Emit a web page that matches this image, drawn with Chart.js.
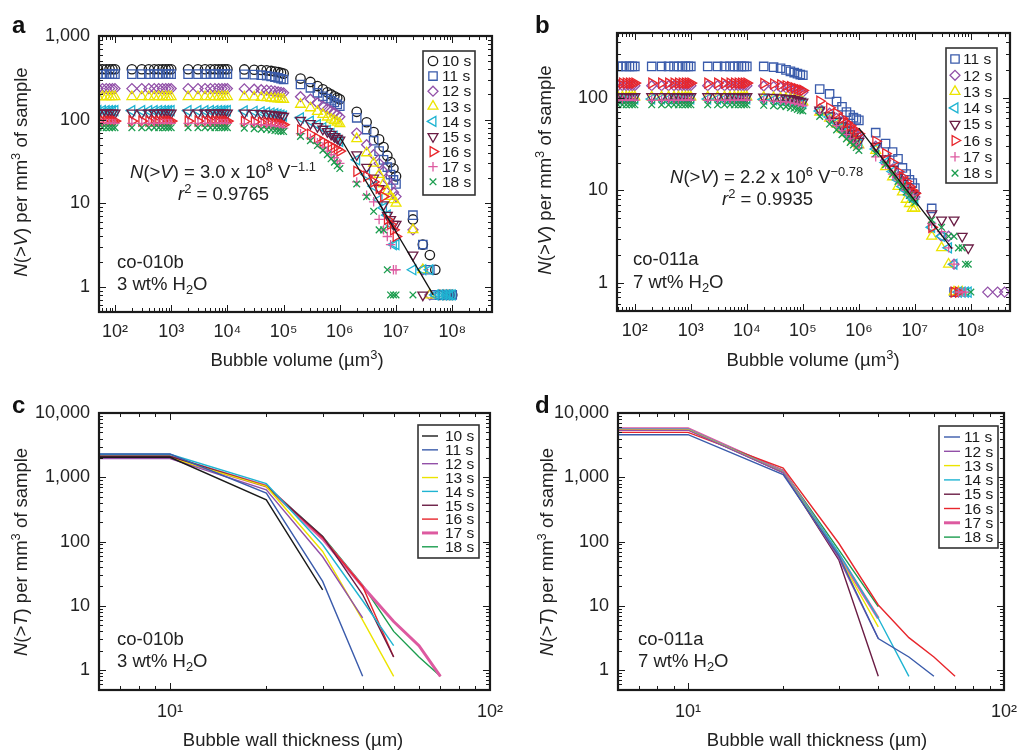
<!DOCTYPE html>
<html>
<head>
<meta charset="utf-8">
<script src="https://cdn.jsdelivr.net/npm/chart.js@4.4.1/dist/chart.umd.min.js"></script>
<style>
  body { margin: 0; background: #fff; }
  #fig { position: relative; width: 1028px; height: 750px; overflow: hidden;
         font-family: "Liberation Sans", Arial, Helvetica, sans-serif; color: #222; }
  #fig canvas { position: absolute; }
  .t { position: absolute; white-space: nowrap; font-size: 18.5px; line-height: 21px; }
  .lab { position: absolute; font-weight: bold; font-size: 24px; line-height: 27px; color: #111; }
  .yt { position: absolute; white-space: nowrap; font-size: 18.5px; transform: translate(-50%, -50%) rotate(-90deg); }
  .xt { position: absolute; white-space: nowrap; font-size: 18.5px; transform: translate(-50%, -50%); }
  sup { font-size: 0.7em; vertical-align: baseline; position: relative; top: -0.55em; }
  sub { font-size: 0.7em; vertical-align: baseline; position: relative; top: 0.3em; }
</style>
</head>
<body>
<div id="fig">
  <canvas id="ca" width="514" height="375" style="left:0;top:0"></canvas>
  <canvas id="cb" width="514" height="375" style="left:514px;top:0"></canvas>
  <canvas id="cc" width="514" height="375" style="left:0;top:375px"></canvas>
  <canvas id="cd" width="514" height="375" style="left:514px;top:375px"></canvas>

  <div class="lab" style="left:12px;top:11px">a</div>
  <div class="lab" style="left:535px;top:11px">b</div>
  <div class="lab" style="left:12px;top:391px">c</div>
  <div class="lab" style="left:535px;top:391px">d</div>

  <div class="yt" style="left:21px;top:172px"><i>N</i>(&gt;<i>V</i>) per mm<sup>3</sup> of sample</div>
  <div class="yt" style="left:545px;top:170px"><i>N</i>(&gt;<i>V</i>) per mm<sup>3</sup> of sample</div>
  <div class="yt" style="left:21px;top:552px"><i>N</i>(&gt;<i>T</i>) per mm<sup>3</sup> of sample</div>
  <div class="yt" style="left:547px;top:552px"><i>N</i>(&gt;<i>T</i>) per mm<sup>3</sup> of sample</div>

  <div class="xt" style="left:297px;top:360px">Bubble volume (µm<sup>3</sup>)</div>
  <div class="xt" style="left:813px;top:360px">Bubble volume (µm<sup>3</sup>)</div>
  <div class="xt" style="left:293px;top:740px">Bubble wall thickness (µm)</div>
  <div class="xt" style="left:817px;top:740px">Bubble wall thickness (µm)</div>

  <div class="t" style="left:130px;top:161px"><i>N</i>(&gt;<i>V</i>) = 3.0 x 10<sup>8</sup> V<sup>−1.1</sup></div>
  <div class="t" style="left:178px;top:183px"><i>r</i><sup>2</sup> = 0.9765</div>
  <div class="t" style="left:117px;top:251px">co-010b</div>
  <div class="t" style="left:117px;top:273px">3 wt% H<sub>2</sub>O</div>

  <div class="t" style="left:670px;top:166px"><i>N</i>(&gt;<i>V</i>) = 2.2 x 10<sup>6</sup> V<sup>−0.78</sup></div>
  <div class="t" style="left:722px;top:188px"><i>r</i><sup>2</sup> = 0.9935</div>
  <div class="t" style="left:633px;top:248px">co-011a</div>
  <div class="t" style="left:633px;top:271px">7 wt% H<sub>2</sub>O</div>

  <div class="t" style="left:117px;top:628px">co-010b</div>
  <div class="t" style="left:117px;top:650px">3 wt% H<sub>2</sub>O</div>
  <div class="t" style="left:638px;top:628px">co-011a</div>
  <div class="t" style="left:638px;top:650px">7 wt% H<sub>2</sub>O</div>
</div>

<script>
// bubble volume bins (um^3)
const volA = [50,60,70,80,90,1e2, 2e2,3e2,4e2,5e2,6e2,7e2,8e2,9e2,1e3, 2e3,3e3,4e3,5e3,6e3,7e3,8e3,9e3,1e4,
  2e4,3e4,4e4,5e4,6e4,7e4,8e4,9e4,1e5, 2e5,3e5,4e5,5e5,6e5,7e5,8e5,9e5,1e6, 2e6,3e6,4e6,5e6,6e6,7e6,8e6,9e6,1e7,
  2e7,3e7,4e7,5e7,6e7,7e7,8e7,9e7,1e8];
const volB = [50,60,70,80,90,1e2, 2e2,3e2,4e2,5e2,6e2,7e2,8e2,9e2,1e3, 2e3,3e3,4e3,5e3,6e3,7e3,8e3,9e3,1e4,
  2e4,3e4,4e4,5e4,6e4,7e4,8e4,9e4,1e5, 2e5,3e5,4e5,5e5,6e5,7e5,8e5,9e5,1e6, 2e6,3e6,4e6,5e6,6e6,7e6,8e6,9e6,1e7,
  2e7,3e7,4e7,5e7,6e7,7e7,8e7,9e7,1e8, 2e8,3e8,4e8];

// panel a, co-010b: N(>V) per mm3
const a10 = [400,400,400,400,400,400, 400,400,400,400,400,400,400,400,400, 400,400,400,400,400,400,400,400,400,
  398,395,392,388,382,376,370,362,355, 310,282,252,230,212,200,190,182,175,
  124,93,71,58,47,37,31,26,21, 6.4,3.2,2.4,1.6,0.8,0.8,0.8,0.8,0.8];
const a11 = [350,350,350,350,350,350, 350,350,350,350,350,350,350,350,350, 350,350,350,350,350,350,350,350,350,
  348,345,340,335,328,322,316,308,302, 263,240,209,190,178,168,160,152,145,
  105,76,56,42,33,27,22,19,17, 7.2,3.2,1.6,0.8,0.8,0.8,0.8,0.8,0.8];
const a12 = [235,235,235,235,235,235, 235,235,235,235,235,235,235,235,235, 235,235,235,235,235,235,235,235,235,
  233,231,228,225,222,219,215,212,209, 188,175,158,145,135,127,120,114,108,
  69,50,38,30,24,19,16,13.5,12, 4.8,1.6,0.8,null,null,null,null,null,null];
const a13 = [188,188,188,188,188,188, 188,188,188,188,188,188,188,188,188, 188,188,188,188,188,188,188,188,188,
  187,186,184,182,180,178,177,175,174, 152,138,125,115,107,101,97,93,89,
  59,40,30,22,17,14,12,11,10, 4.8,1.6,0.8,null,null,null,null,null,null];
const a14 = [128,128,128,128,128,128, 128,128,128,128,128,128,128,128,128, 128,128,128,128,128,128,128,128,128,
  127,126,124,122,120,118,116,113,110, 105,96,87,80,74,68,63,59,55,
  33,22,16,11,8.8,7.2,5.6,3.2,3.2, 1.6,1.6,1.6,0.8,0.8,0.8,0.8,0.8,0.8];
const a15 = [120,120,120,120,120,120, 120,120,120,120,120,120,120,120,120, 120,120,120,120,120,120,120,120,120,
  120,119,118,117,116,114,113,112,110, 98,90,83,77,72,67,63,60,57,
  38,27,20,15,9.6,7.2,6.4,5.6,5.6, 2.4,0.8,null,null,null,null,null,null,null];
const a16 = [96,96,96,96,96,96, 96,96,96,96,96,96,96,96,96, 96,96,96,96,96,96,96,96,96,
  95,94,93,92,91,90,89,88,87, 75,67,60,55,51,48,46,44,42,
  24,21,18,15,12,6.4,5.6,4.8,4.0, null,null,null,null,null,null,null,null,null];
const a17 = [90,90,90,90,90,90, 90,90,90,90,90,90,90,90,90, 90,90,90,90,90,90,90,90,90,
  89,88,87,86,85,83,82,80,79, 68,60,53,47,42,38,35,32,30,
  18,12.5,10.4,6.4,4.8,4.0,3.2,1.6,1.6, null,null,null,null,null,null,null,null,null];
const a18 = [80,80,80,80,80,80, 80,80,80,80,80,80,80,80,80, 80,80,80,80,80,80,80,80,80,
  79,78,77,76,75,74,73,72,72, 63,56,49,43,38,34,31,28,26,
  17,12,8,4.8,4.8,1.6,0.8,0.8,0.8, 0.8,null,null,null,null,null,null,null,null];
const fitAX = [1e6, 4.6e7];
const fitAY = [62, 0.8];

// panel b, co-011a
const b11 = [218,218,218,218,218,218, 218,218,218,218,218,218,218,218,218, 218,218,218,218,218,218,218,218,218,
  218,214,208,200,193,187,182,178,175, 124,110,91,80,70,65,61,59,57,
  42,32,26,22,17.5,15,13,12,10.6, 6.4,null,null,0.8,null,null,null,null,null, null,null,null];
const b12 = [135,135,135,135,135,135, 135,135,135,135,135,135,135,135,135, 135,135,135,135,135,135,135,135,135,
  134,132,130,128,125,122,119,117,115, 76,68,60,54,49,45,42,40,38,
  30,21,17,14,12,10.5,9.5,9,8.5, 4.0,3.2,3.2,1.6,0.8,null,null,null,null, 0.8,0.8,0.8];
const b13 = [102,102,102,102,102,102, 102,102,102,102,102,102,102,102,102, 102,102,102,102,102,102,102,102,102,
  101,100,99,98,97,96,94,92,90, 70,60,52,46,42,38,35,33,31,
  27,18,14,11,9.6,8,7.2,6.4,6.4, 3.2,2.4,1.6,0.8,0.8,0.8,null,null,null, null,null,null];
const b14 = [97,97,97,97,97,97, 97,97,97,97,97,97,97,97,97, 97,97,97,97,97,97,97,97,97,
  96,95,94,93,92,91,90,88,87, 72,62,54,48,43,39,36,34,32,
  28,20,16,13,11,10,9,8.3,7.8, 4.0,3.2,2.4,1.6,0.8,0.8,0.8,0.8,null, null,null,null];
const b15 = [103,103,103,103,103,103, 103,103,103,103,103,103,103,103,103, 103,103,103,103,103,103,103,103,103,
  102,101,100,99,98,96,94,92,90, 74,64,56,50,45,41,38,36,34,
  30,22,17,14,12,11,10,9.3,8.8, 5.6,4.8,null,4.8,null,3.2,null,2.4,null, null,null,null];
const b16 = [144,144,144,144,144,144, 144,144,144,144,144,144,144,144,144, 144,144,144,144,144,144,144,144,144,
  143,141,138,135,132,128,125,122,120, 92,78,68,60,54,50,46,43,41,
  34,25,20,16,14,12.5,11,10,9.3, 4.0,null,null,0.8,0.8,null,null,null,null, null,null,null];
const b17 = [94,94,94,94,94,94, 94,94,94,94,94,94,94,94,94, 94,94,94,94,94,94,94,94,94,
  93,92,91,90,88,87,85,83,82, 68,58,50,44,40,36,33,31,29,
  23,19,15,13,11.5,10,9.3,8.6,8, 4.4,3.6,2.4,1.6,0.8,0.8,0.8,null,null, null,null,null];
const b18 = [84,84,84,84,84,84, 84,84,84,84,84,84,84,84,84, 84,84,84,84,84,84,84,84,84,
  83,82,81,80,78,77,75,73,72, 63,52,45,40,36,33,31,29,27,
  25,19,15,12.5,11,9.6,8.8,8,7.4, 4.8,4.0,3.2,3.2,2.4,2.4,1.6,1.6,0.8, null,null,null];
const fitBX = [1e6, 4.6e7];
const fitBY = [47, 2.35];

// panels c and d: bubble wall thickness (um), N(>T) per mm3
const thick = [5, 10, 20, 30, 40, 50, 60, 70];
const c10 = [2050, 2050, 445, 17.7, null, null, null, null];
const c11 = [2300, 2300, 566, 24, 0.8, null, null, null];
const c12 = [1950, 1950, 638, 58, 6.5, null, null, null];
const c13 = [2000, 2000, 720, 70, 6, 0.8, null, null];
const c14 = [2280, 2280, 795, 89, 12, 2.4, null, null];
const c15 = [2100, 2100, 720, 120, 15, 1.6, null, null];
const c16 = [2100, 2100, 730, 115, 20, 1.6, null, null];
const c17 = [2050, 2050, 730, 110, 20, 5.7, 2.4, 0.8];
const c18 = [2150, 2150, 740, 120, 21, 4.0, 1.6, 0.8];

const d11 = [4600, 4600, 1100, 60, 3.1, 1.6, 0.8, null];
const d12 = [5400, 5400, 1180, 55, 3.1, null, null, null];
const d13 = [5500, 5500, 1200, 58, 4.7, null, null, null];
const d14 = [5600, 5600, 1220, 66, 6.4, 0.8, null, null];
const d15 = [5500, 5500, 1180, 52, 0.8, null, null, null];
const d16 = [5000, 5000, 1390, 94, 10.3, 3.2, 1.6, 0.8];
const d17 = [5700, 5700, 1230, 62, 6.4, null, null, null];
const d18 = [5600, 5600, 1280, 74, 9.7, null, null, null];

const STYLE = {
  '10 s': { color: '#1a1a1a', shape: 'circle',   rot: 0,   r: 4.7 },
  '11 s': { color: '#3a5bab', shape: 'rect',     rot: 0,   r: 5.9 },
  '12 s': { color: '#9250a8', shape: 'rectRot',  rot: 0,   r: 5.0 },
  '13 s': { color: '#ece400', shape: 'triangle', rot: 0,   r: 5.7 },
  '14 s': { color: '#1fb4d2', shape: 'triangle', rot: -90, r: 5.7 },
  '15 s': { color: '#6a1c44', shape: 'triangle', rot: 180, r: 5.7 },
  '16 s': { color: '#e8262c', shape: 'triangle', rot: 90,  r: 5.7 },
  '17 s': { color: '#dd5aa0', shape: 'cross',    rot: 0,   r: 4.7 },
  '18 s': { color: '#1b9d4e', shape: 'crossRot', rot: 0,   r: 4.7 }
};

Chart.defaults.font.family = '"Liberation Sans", Arial, Helvetica, sans-serif';
Chart.defaults.color = '#222';

const SUP = { '0': '⁰', '1': '¹', '2': '²', '3': '³', '4': '⁴', '5': '⁵', '6': '⁶', '7': '⁷', '8': '⁸', '9': '⁹' };
function isDecade(v) {
  const l = Math.log10(v);
  return Math.abs(l - Math.round(l)) < 1e-6;
}
function logTicks(min, max) {
  const out = [];
  for (let k = Math.floor(Math.log10(min)); k <= Math.ceil(Math.log10(max)); k++) {
    for (let m = 1; m <= 9; m++) {
      const v = +(m * Math.pow(10, k)).toPrecision(6);
      if (v >= min * 0.9999 && v <= max * 1.0001) out.push({ value: v });
    }
  }
  return out;
}
const powLabel = v => isDecade(v) ? '10' + String(Math.round(Math.log10(v))).split('').map(c => SUP[c]).join('') : '';
const numLabel = v => isDecade(v) ? Math.round(v).toLocaleString('en-US') : '';

function pts(xs, ys) {
  return xs.map((x, i) => ({ x: x, y: ys[i] })).filter(p => p.y !== null);
}

function markerSet(label, xs, ys, k) {
  const st = STYLE[label];
  return {
    label: label, data: pts(xs, ys), showLine: false,
    pointStyle: st.shape, pointRotation: st.rot, pointRadius: st.r,
    pointBorderWidth: 1.3, pointBorderColor: st.color, borderColor: st.color,
    pointBackgroundColor: 'rgba(0,0,0,0)', backgroundColor: 'rgba(0,0,0,0)',
    order: 20 - k
  };
}
function lineSet(label, xs, ys) {
  const st = STYLE[label];
  return {
    label: label, data: pts(xs, ys), showLine: true, tension: 0, fill: false,
    borderColor: st.color, borderWidth: label === '17 s' ? 3 : 1.4,
    pointRadius: 0, pointHoverRadius: 0
  };
}
function fitSet(xs, ys) {
  return {
    label: 'fit', data: pts(xs, ys), showLine: true, tension: 0, fill: false,
    borderColor: '#111', borderWidth: 1.3, pointRadius: 0, order: -1
  };
}

function drawMark(ctx, st, x, y) {
  ctx.save();
  ctx.strokeStyle = st.color;
  ctx.fillStyle = 'rgba(0,0,0,0)';
  ctx.lineWidth = 1.3;
  if (Chart.helpers && Chart.helpers.drawPoint) {
    Chart.helpers.drawPoint(ctx, { pointStyle: st.shape, rotation: st.rot, radius: st.r, borderWidth: 1.3 }, x, y);
  } else {
    ctx.beginPath(); ctx.arc(x, y, st.r, 0, Math.PI * 2); ctx.stroke();
  }
  ctx.restore();
}

function makeDecor(leg) {
  return {
    id: 'decor',
    afterDatasetsDraw(chart) {
      const ctx = chart.ctx, a = chart.chartArea, sx = chart.scales.x, sy = chart.scales.y;
      ctx.save();
      ctx.strokeStyle = '#1a1a1a';
      ctx.lineWidth = 1;
      ctx.beginPath();
      sx.ticks.forEach(t => {
        const p = Math.round(sx.getPixelForValue(t.value)) + 0.5;
        if (p <= a.left + 1 || p >= a.right - 1) return;
        const len = isDecade(t.value) ? 7 : 4;
        ctx.moveTo(p, a.bottom); ctx.lineTo(p, a.bottom - len);
        ctx.moveTo(p, a.top); ctx.lineTo(p, a.top + len);
      });
      sy.ticks.forEach(t => {
        const p = Math.round(sy.getPixelForValue(t.value)) + 0.5;
        if (p <= a.top + 1 || p >= a.bottom - 1) return;
        const len = isDecade(t.value) ? 7 : 4;
        ctx.moveTo(a.left, p); ctx.lineTo(a.left + len, p);
        ctx.moveTo(a.right, p); ctx.lineTo(a.right - len, p);
      });
      ctx.stroke();
      ctx.lineWidth = 2.2;
      ctx.strokeRect(a.left, a.top, a.right - a.left, a.bottom - a.top);

      // legend box
      ctx.fillStyle = '#fff';
      ctx.fillRect(leg.x, leg.y, leg.w, leg.h);
      ctx.lineWidth = 1.6;
      ctx.strokeStyle = '#333';
      ctx.strokeRect(leg.x, leg.y, leg.w, leg.h);
      ctx.font = '15.5px "Liberation Sans", Arial, sans-serif';
      ctx.textBaseline = 'middle';
      ctx.textAlign = 'left';
      leg.labels.forEach((lab, i) => {
        const y = leg.row0 + i * leg.dy;
        const st = STYLE[lab];
        if (leg.lines) {
          ctx.strokeStyle = st.color;
          ctx.lineWidth = lab === '17 s' ? 3 : 1.4;
          ctx.beginPath(); ctx.moveTo(leg.mx - 8, y); ctx.lineTo(leg.mx + 8, y); ctx.stroke();
        } else {
          drawMark(ctx, st, leg.mx, y);
        }
        ctx.fillStyle = '#1a1a1a';
        ctx.fillText(lab, leg.tx, y + 1);
      });
      ctx.restore();
    }
  };
}

function panel(id, p) {
  return new Chart(document.getElementById(id), {
    type: 'scatter',
    data: { datasets: p.datasets },
    options: {
      responsive: false,
      animation: false,
      layout: { padding: { top: p.top, right: p.right, left: 0, bottom: 0 } },
      plugins: { legend: { display: false }, tooltip: { enabled: false } },
      scales: {
        x: {
          type: 'logarithmic', min: p.xmin, max: p.xmax,
          grid: { display: false, drawTicks: false }, border: { display: false },
          afterBuildTicks: s => { s.ticks = logTicks(p.xmin, p.xmax); },
          afterFit: s => { s.height = p.xh; },
          ticks: { autoSkip: false, maxRotation: 0, minRotation: 0, padding: p.xpad,
                   font: { size: 18 }, color: '#222', callback: powLabel }
        },
        y: {
          type: 'logarithmic', min: p.ymin, max: p.ymax,
          grid: { display: false, drawTicks: false }, border: { display: false },
          afterBuildTicks: s => { s.ticks = logTicks(p.ymin, p.ymax); },
          afterFit: s => { s.width = p.yw; },
          ticks: { autoSkip: false, padding: 9, font: { size: 18 }, color: '#222', callback: numLabel }
        }
      }
    },
    plugins: [makeDecor(p.legend)]
  });
}

const labelsA = ['10 s', '11 s', '12 s', '13 s', '14 s', '15 s', '16 s', '17 s', '18 s'];
const labelsB = ['11 s', '12 s', '13 s', '14 s', '15 s', '16 s', '17 s', '18 s'];
const seriesA = [a10, a11, a12, a13, a14, a15, a16, a17, a18];
const seriesB = [b11, b12, b13, b14, b15, b16, b17, b18];
const seriesC = [c10, c11, c12, c13, c14, c15, c16, c17, c18];
const seriesD = [d11, d12, d13, d14, d15, d16, d17, d18];

panel('ca', {
  datasets: labelsA.map((l, k) => markerSet(l, volA, seriesA[k], k)).concat([fitSet(fitAX, fitAY)]),
  xmin: 52, xmax: 5.1e8, ymin: 0.5, ymax: 1000,
  top: 36, right: 22, xh: 63, yw: 99, xpad: 9,
  legend: { x: 423, y: 51, w: 52, h: 144, row0: 61, dy: 15.1, mx: 433, tx: 442, labels: labelsA }
});
panel('cb', {
  datasets: labelsB.map((l, k) => markerSet(l, volB, seriesB[k], k)).concat([fitSet(fitBX, fitBY)]),
  xmin: 48, xmax: 5e8, ymin: 0.5, ymax: 500,
  top: 33, right: 18, xh: 64, yw: 103, xpad: 9,
  legend: { x: 432, y: 48, w: 51, h: 135, row0: 59, dy: 16.3, mx: 441, tx: 449, labels: labelsB }
});
panel('cc', {
  datasets: labelsA.map((l, k) => lineSet(l, thick, seriesC[k])),
  xmin: 6, xmax: 100, ymin: 0.49, ymax: 10000,
  top: 38, right: 19, xh: 60, yw: 99, xpad: 11,
  legend: { x: 418, y: 50, w: 61, h: 133, row0: 61, dy: 13.85, mx: 430, tx: 445, labels: labelsA, lines: true }
});
panel('cd', {
  datasets: labelsB.map((l, k) => lineSet(l, thick, seriesD[k])),
  xmin: 6, xmax: 100, ymin: 0.49, ymax: 10000,
  top: 38, right: 13, xh: 60, yw: 104, xpad: 11,
  legend: { x: 425, y: 51, w: 59, h: 122, row0: 62, dy: 14.3, mx: 438, tx: 450, labels: labelsB, lines: true }
});
</script>
</body>
</html>
